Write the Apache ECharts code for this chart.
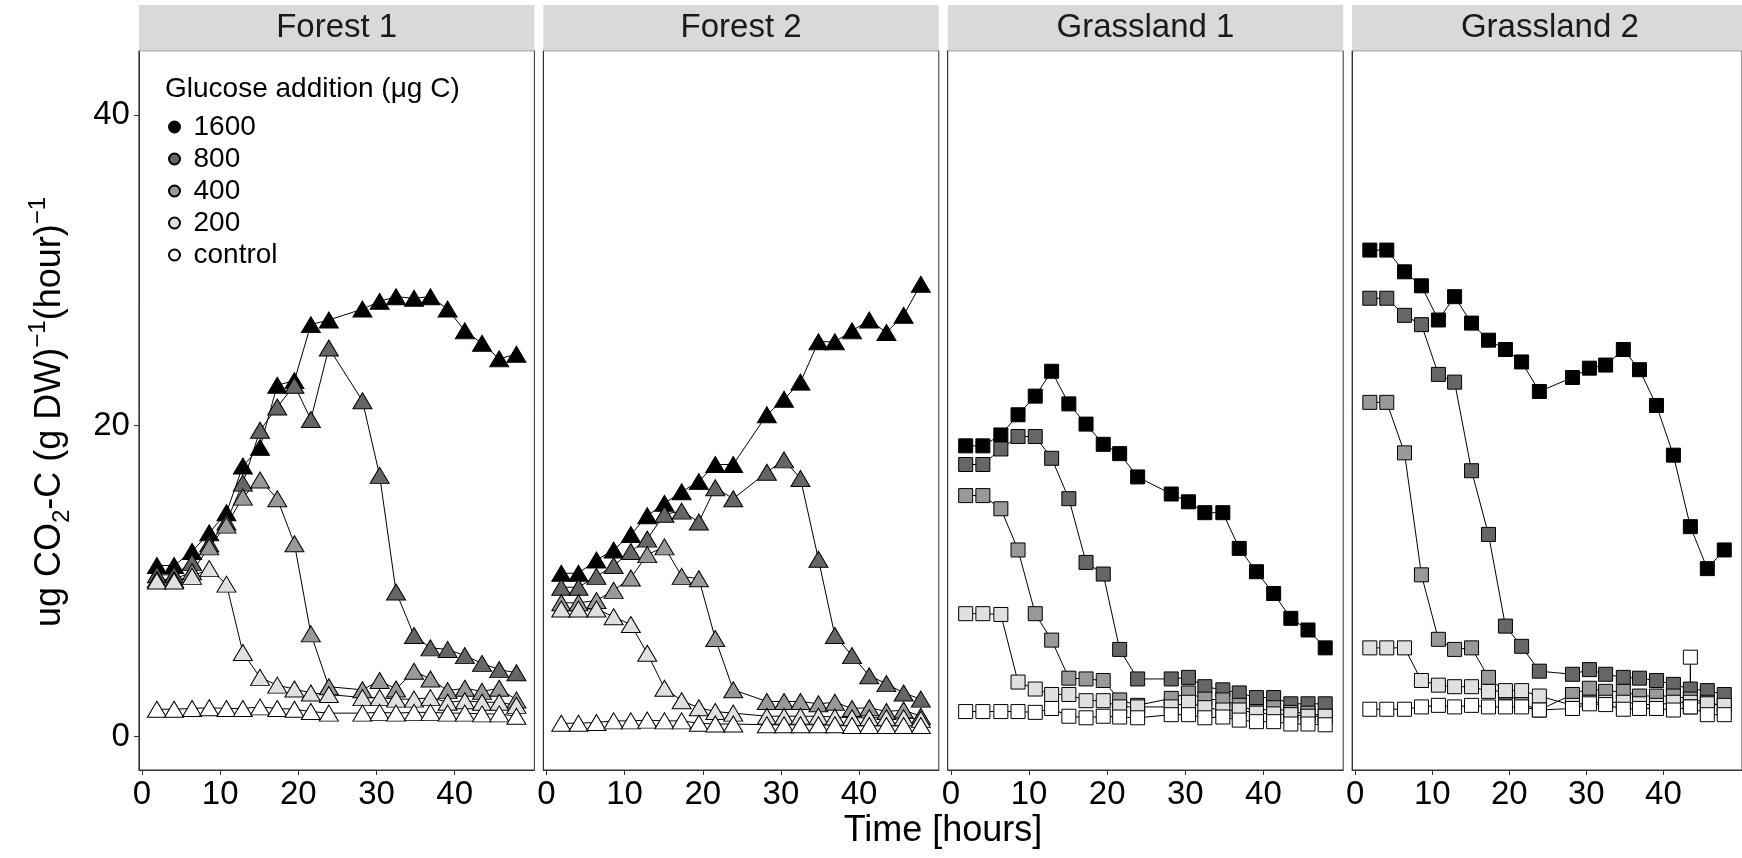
<!DOCTYPE html>
<html lang="en">
<head>
    <meta charset="UTF-8">
    <script src="https://cdn.jsdelivr.net/npm/echarts@6/dist/echarts.min.js"></script>
    <title>Glucose addition</title>
</head>
<body style="margin:0;">
<div id="container" style="width:1742px; height:858px;"></div>
<script>
    // sampling times (hours)
    const times = [1.9, 4.1, 6.4, 8.6, 10.8, 12.9, 15.1, 17.3, 19.5, 21.6, 23.9,
        28.2, 30.4, 32.5, 34.8, 36.9, 39.1, 41.3, 43.5, 45.7, 47.9];

    const levels = ['1600', '800', '400', '200', 'control'];
    const fills = ['#000000', '#666666', '#999999', '#E0E0E0', '#FFFFFF'];
    const panelNames = ['Forest 1', 'Forest 2', 'Grassland 1', 'Grassland 2'];

    // Forest 1
    const f1_1600 = [11.0, 11.0, 11.9, 13.1, 14.4, 17.4, 18.6, 22.6, 22.9, 26.5, 26.8, 27.5, 28.0, 28.3, 28.2, 28.3, 27.5, 26.1, 25.3, 24.3, 24.6];
    const f1_800 = [10.4, 10.4, 11.2, 12.4, 13.8, 16.3, 19.7, 21.2, 22.6, 20.4, 25.0, 21.6, 16.8, 9.3, 6.5, 5.7, 5.6, 5.2, 4.7, 4.3, 4.1];
    const f1_400 = [10.1, 10.1, 10.6, 12.2, 13.6, 15.4, 16.5, 15.3, 12.4, 6.6, 3.2, 3.0, 3.6, 3.05, 4.2, 3.7, 2.95, 3.1, 2.9, 3.1, 2.35];
    const f1_200 = [10.0, 10.0, 10.3, 10.8, 9.8, 5.4, 3.8, 3.3, 3.05, 2.8, 2.7, 2.5, 2.5, 2.4, 2.4, 2.5, 2.2, 2.3, 2.2, 2.2, 2.0];
    const f1_ctrl = [1.75, 1.75, 1.8, 1.85, 1.8, 1.8, 1.9, 1.8, 1.75, 1.6, 1.5, 1.5, 1.55, 1.5, 1.55, 1.55, 1.5, 1.5, 1.45, 1.45, 1.3];

    // Forest 2
    const f2_1600 = [10.5, 10.5, 11.35, 12.0, 13.0, 14.2, 15.0, 15.75, 16.4, 17.5, 17.5, 20.7, 21.7, 22.8, 25.4, 25.4, 26.1, 26.8, 26.0, 27.1, 29.1];
    const f2_800 = [9.6, 9.6, 10.3, 11.0, 11.9, 12.7, 14.3, 14.5, 13.8, 16.0, 15.3, 17.0, 17.8, 16.6, 11.4, 6.5, 5.2, 3.9, 3.4, 2.8, 2.4];
    const f2_400 = [8.6, 8.6, 8.75, 9.4, 10.2, 11.7, 12.2, 10.3, 10.15, 6.3, 3.0, 2.25, 2.25, 2.25, 2.1, 2.2, 1.8, 1.85, 1.6, 1.7, 1.3];
    const f2_200 = [8.2, 8.2, 8.2, 7.7, 7.2, 5.35, 3.1, 2.3, 1.85, 1.6, 1.5, 1.3, 1.3, 1.3, 1.3, 1.25, 1.2, 1.2, 1.2, 1.2, 1.1];
    const f2_ctrl = [0.85, 0.85, 0.9, 1.0, 1.0, 1.05, 1.0, 1.0, 0.85, 0.8, 0.8, 0.75, 0.75, 0.75, 0.75, 0.75, 0.7, 0.7, 0.7, 0.7, 0.7];

    // Grassland 1
    const g1_1600 = [18.7, 18.7, 19.4, 20.7, 21.9, 23.5, 21.4, 20.1, 18.8, 18.2, 16.7, 15.6, 15.1, 14.4, 14.4, 12.1, 10.6, 9.2, 7.6, 6.85, 5.7];
    const g1_800 = [17.5, 17.5, 18.5, 19.3, 19.3, 17.9, 15.3, 11.2, 10.45, 5.6, 3.7, 3.7, 3.8, 3.2, 3.0, 2.8, 2.5, 2.5, 2.1, 2.1, 2.1];
    const g1_400 = [15.5, 15.5, 14.65, 12.0, 7.9, 6.2, 3.75, 3.7, 3.6, 2.35, 2.0, 2.45, 2.8, 2.4, 2.35, 2.0, 1.6, 1.85, 1.55, 1.5, 1.3];
    const g1_200 = [7.9, 7.9, 7.85, 3.5, 3.05, 2.7, 2.7, 2.3, 2.3, 1.9, 1.9, 1.9, 2.2, 1.85, 1.7, 1.7, 1.5, 1.45, 1.4, 1.3, 1.3];
    const g1_ctrl = [1.6, 1.6, 1.6, 1.6, 1.55, 1.8, 1.3, 1.2, 1.3, 1.25, 1.2, 1.4, 1.4, 1.2, 1.25, 1.05, 0.95, 0.95, 0.8, 0.8, 0.75];

    // Grassland 2
    const g2_1600 = [31.3, 31.3, 29.9, 29.0, 26.8, 28.3, 26.6, 25.5, 24.9, 24.1, 22.2, 23.1, 23.7, 23.9, 24.9, 23.6, 21.3, 18.1, 13.5, 10.8, 12.0];
    const g2_800 = [28.2, 28.2, 27.1, 26.5, 23.3, 22.8, 17.1, 13.0, 7.1, 5.8, 4.2, 4.0, 4.3, 4.0, 3.8, 3.75, 3.6, 3.35, 3.05, 2.95, 2.7];
    const g2_400 = [21.5, 21.5, 18.25, 10.4, 6.25, 5.6, 5.7, 3.8, 2.85, 2.1, 1.7, 2.7, 3.1, 2.9, 2.9, 2.6, 2.6, 2.6, 2.4, 2.2, 1.96];
    const g2_200 = [5.7, 5.7, 5.7, 3.6, 3.3, 3.2, 3.2, 2.9, 2.95, 2.95, 2.6, 2.0, 2.2, 2.2, 2.2, 2.1, 2.0, 2.2, 2.2, 2.1, 2.0];
    const g2_ctrl = [1.75, 1.75, 1.75, 1.9, 2.0, 1.9, 2.0, 1.9, 1.9, 1.9, 1.7, 1.8, 2.1, 2.05, 1.75, 1.8, 1.8, 1.7, 1.9, 1.4, 1.4];
    const g2CtrlSpike = [43.5, 5.1];   // second control reading at 43.5 h

    const xTicks = [0, 10, 20, 30, 40];
    const yTicks = [0, 20, 40];

    const panels = [
        {symbol: 'triangle', values: [f1_1600, f1_800, f1_400, f1_200, f1_ctrl]},
        {symbol: 'triangle', values: [f2_1600, f2_800, f2_400, f2_200, f2_ctrl]},
        {symbol: 'rect', values: [g1_1600, g1_800, g1_400, g1_200, g1_ctrl]},
        {symbol: 'rect', values: [g2_1600, g2_800, g2_400, g2_200, g2_ctrl]}
    ];

    const FONT = '"Liberation Sans", Arial, sans-serif';
    const panelLeft = 138.9, panelStep = 404.4, panelW = 395.5;
    const panelTop = 50.7, panelH = 719.3;

    let grids = [], xAxes = [], yAxes = [], series = [], graphics = [];

    panels.forEach(function (p, pi) {
        let left = panelLeft + pi * panelStep;
        grids.push({
            left: left, top: panelTop, width: panelW, height: panelH,
            show: true, borderColor: '#333', borderWidth: 1, backgroundColor: '#fff'
        });
        xAxes.push({
            type: 'value', gridIndex: pi, min: -0.4, max: 50.2,
            axisLine: {show: true, onZero: false, lineStyle: {color: '#333', width: 1}},
            splitLine: {show: false},
            axisTick: {show: true, customValues: xTicks, length: 5, lineStyle: {color: '#333'}},
            axisLabel: {customValues: xTicks, fontSize: 33, fontFamily: FONT, color: '#000', margin: 8}
        });
        yAxes.push({
            type: 'value', gridIndex: pi, min: -2.16, max: 44.13,
            axisLine: {show: true, onZero: false, lineStyle: {color: '#333', width: 1}},
            splitLine: {show: false},
            axisTick: {show: pi === 0, customValues: yTicks, length: 5, lineStyle: {color: '#333'}},
            axisLabel: {show: pi === 0, customValues: yTicks, fontSize: 33, fontFamily: FONT, color: '#000', margin: 9}
        });
        // facet strip
        graphics.push({
            type: 'rect', left: left, top: 5, z: 10,
            shape: {width: panelW, height: 45.7},
            style: {fill: '#D9D9D9'}
        });
        graphics.push({
            type: 'text', x: left + panelW / 2, y: 28, z: 11,
            style: {text: panelNames[pi], fontSize: 33, fontFamily: FONT, fill: '#1A1A1A',
                align: 'center', verticalAlign: 'middle'}
        });

        p.values.forEach(function (vals, li) {
            let data = times.map(function (t, i) { return [t, vals[i]]; });
            if (pi === 3 && li === 4) {
                data.splice(19, 0, g2CtrlSpike, [times[18], vals[18]]);
            }
            series.push({
                type: 'line',
                name: levels[li],
                xAxisIndex: pi,
                yAxisIndex: pi,
                data: data,
                symbol: p.symbol,
                symbolSize: p.symbol === 'triangle' ? [19, 16] : 14,
                showSymbol: true,
                showAllSymbol: true,
                lineStyle: {color: '#000', width: 1},
                itemStyle: {color: fills[li], borderColor: '#000', borderWidth: 1},
                emphasis: {disabled: true}
            });
        });
    });

    // axis titles
    graphics.push({
        type: 'text', x: 943, y: 831,
        style: {text: 'Time [hours]', fontSize: 36, fontFamily: FONT, fill: '#000',
            align: 'center', verticalAlign: 'middle'}
    });
    graphics.push({
        type: 'text', x: 50, y: 412, rotation: Math.PI / 2,
        style: {
            text: '{a|ug CO}{s|2}{a|-C (g DW)}{p|−1}{a|(hour)}{p|−1}',
            align: 'center', verticalAlign: 'middle', fill: '#000',
            fontFamily: FONT, fontSize: 36,
            rich: {
                a: {fontSize: 36, fontFamily: FONT, fill: '#000', lineHeight: 48},
                s: {fontSize: 24, fontFamily: FONT, fill: '#000', lineHeight: 48, verticalAlign: 'bottom'},
                p: {fontSize: 24, fontFamily: FONT, fill: '#000', lineHeight: 48, verticalAlign: 'top'}
            }
        }
    });

    let dom = document.getElementById('container');
    let myChart = echarts.init(dom, null, {renderer: 'canvas'});
    let option = {
        animation: false,
        backgroundColor: '#fff',
        title: {
            text: 'Glucose addition (μg C)',
            left: 165, top: 75, padding: 0,
            textStyle: {fontSize: 28, fontWeight: 'normal', fontFamily: FONT, color: '#000', lineHeight: 28}
        },
        legend: {
            data: levels,
            orient: 'vertical',
            left: 168, top: 111, padding: 0,
            icon: 'circle',
            itemWidth: 28, itemHeight: 11, itemGap: 0,
            textStyle: {fontSize: 28, fontFamily: FONT, color: '#000', lineHeight: 32}
        },
        grid: grids,
        xAxis: xAxes,
        yAxis: yAxes,
        series: series,
        graphic: graphics
    };
    myChart.setOption(option);
</script>
</body>
</html>
